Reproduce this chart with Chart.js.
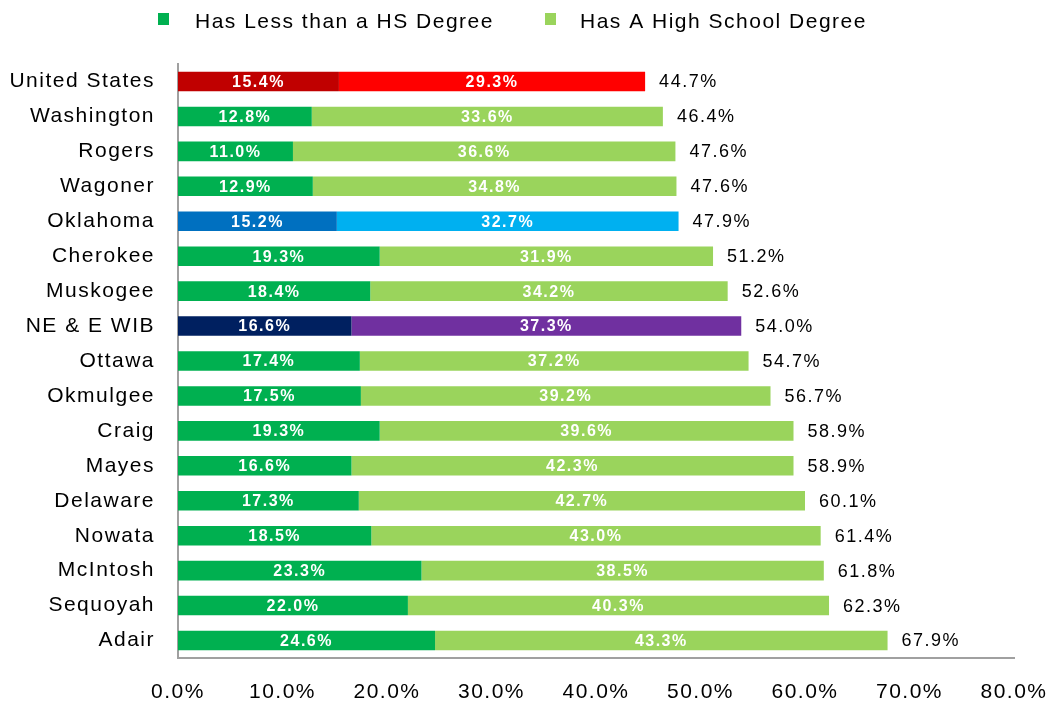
<!DOCTYPE html>
<html>
<head>
<meta charset="utf-8">
<title>Educational attainment</title>
<script src="https://cdn.jsdelivr.net/npm/chart.js@4.4.1/dist/chart.umd.min.js"></script>
<style>
  html, body { margin: 0; padding: 0; background: #fff; }
  #chart { display: block; }
</style>
</head>
<body>
<canvas id="chart" width="1060" height="709"></canvas>
<script>
//DATA
const areas = ['United States', 'Washington', 'Rogers', 'Wagoner', 'Oklahoma', 'Cherokee', 'Muskogee',
  'NE & E WIB', 'Ottawa', 'Okmulgee', 'Craig', 'Mayes', 'Delaware', 'Nowata', 'McIntosh', 'Sequoyah', 'Adair'];
const lessThanHS = [15.4, 12.8, 11.0, 12.9, 15.2, 19.3, 18.4, 16.6, 17.4, 17.5, 19.3, 16.6, 17.3, 18.5, 23.3, 22.0, 24.6];
const highSchool = [29.3, 33.6, 36.6, 34.8, 32.7, 31.9, 34.2, 37.3, 37.2, 39.2, 39.6, 42.3, 42.7, 43.0, 38.5, 40.3, 43.3];
const totals = [44.7, 46.4, 47.6, 47.6, 47.9, 51.2, 52.6, 54.0, 54.7, 56.7, 58.9, 58.9, 60.1, 61.4, 61.8, 62.3, 67.9];
const seriesNames = ['Has Less than a HS Degree', 'Has A High School Degree'];
const xTicks = [0, 10, 20, 30, 40, 50, 60, 70, 80];

//COLORS
const baseColors = ['#00B050', '#9AD45C'];
const highlightColors = {
  'United States': ['#C00000', '#FF0000'],
  'Oklahoma': ['#0070C0', '#00B0F0'],
  'NE & E WIB': ['#002060', '#7030A0']
};

function colorsFor(seriesIndex) {
  return areas.map(a => highlightColors[a] ? highlightColors[a][seriesIndex] : baseColors[seriesIndex]);
}

const FONT = "'Liberation Sans', Arial, sans-serif";
const SPACING = '1.5px';

//EXCEL-LIKE WIDE TEXT
const spacingPlugin = {
  id: 'spacing',
  beforeUpdate(chart) { chart.ctx.letterSpacing = SPACING; },
  beforeDraw(chart) { chart.ctx.letterSpacing = SPACING; }
};

//LEGEND AT THE TOP
const topLegend = {
  id: 'topLegend',
  afterDraw(chart) {
    const ctx = chart.ctx;
    const items = [
      { box: 158, text: 195 },
      { box: 545, text: 580 }
    ];
    ctx.save();
    ctx.letterSpacing = SPACING;
    ctx.font = '21px ' + FONT;
    ctx.textBaseline = 'alphabetic';
    ctx.textAlign = 'left';
    items.forEach((it, i) => {
      ctx.fillStyle = baseColors[i];
      ctx.fillRect(it.box, 13, 11, 12);
      ctx.fillStyle = '#000';
      ctx.fillText(chart.data.datasets[i].label, it.text, 28);
    });
    ctx.restore();
  }
};

//VALUE LABELS IN THE BARS AND TOTALS AFTER THEM
const barLabels = {
  id: 'barLabels',
  afterDatasetsDraw(chart) {
    const ctx = chart.ctx;
    const xScale = chart.scales.x;
    ctx.save();
    ctx.letterSpacing = SPACING;
    ctx.textBaseline = 'middle';
    chart.data.datasets.forEach((ds, di) => {
      const meta = chart.getDatasetMeta(di);
      ctx.font = 'bold 16px ' + FONT;
      ctx.fillStyle = '#fff';
      ctx.textAlign = 'center';
      meta.data.forEach((bar, i) => {
        ctx.fillText(ds.data[i].toFixed(1) + '%', (bar.x + bar.base) / 2, bar.y + 1);
      });
    });
    const last = chart.getDatasetMeta(1);
    ctx.font = '18px ' + FONT;
    ctx.fillStyle = '#000';
    ctx.textAlign = 'left';
    last.data.forEach((bar, i) => {
      ctx.fillText(totals[i].toFixed(1) + '%', xScale.getPixelForValue(lessThanHS[i] + highSchool[i]) + 14, bar.y + 1);
    });
    ctx.restore();
  }
};

function drawChart() {
  const cvs = document.getElementById('chart');

  const data = {
    labels: areas,
    datasets: [
      { label: seriesNames[0], data: lessThanHS, backgroundColor: colorsFor(0) },
      { label: seriesNames[1], data: highSchool, backgroundColor: colorsFor(1) }
    ]
  };

  new Chart(cvs, {
    type: 'bar',
    data: data,
    options: {
      indexAxis: 'y',
      responsive: false,
      animation: false,
      barPercentage: 0.56,
      categoryPercentage: 1,
      layout: { padding: { top: 64, left: 10, right: 46, bottom: 4 } },
      plugins: {
        legend: { display: false },
        tooltip: { enabled: false }
      },
      scales: {
        x: {
          stacked: true,
          min: 0,
          max: 80,
          afterBuildTicks(axis) { axis.ticks = xTicks.map(v => ({ value: v })); },
          afterFit(axis) {
            axis.height = 47;
            axis.paddingLeft = 0;
            axis.paddingRight = 0;
          },
          grid: { display: false, drawTicks: false },
          border: { display: true, color: '#A0A0A0', width: 2 },
          ticks: {
            padding: 22,
            color: '#000',
            font: { family: FONT, size: 21 },
            maxRotation: 0,
            callback: v => v.toFixed(1) + '%'
          }
        },
        y: {
          stacked: true,
          afterFit(axis) { axis.width = 168; },
          grid: { display: false, drawTicks: false },
          border: { display: true, color: '#A0A0A0', width: 2 },
          ticks: {
            padding: 23,
            color: '#000',
            font: { family: FONT, size: 21 }
          }
        }
      }
    },
    plugins: [spacingPlugin, barLabels, topLegend]
  });
}

document.addEventListener('DOMContentLoaded', drawChart);
</script>
</body>
</html>
